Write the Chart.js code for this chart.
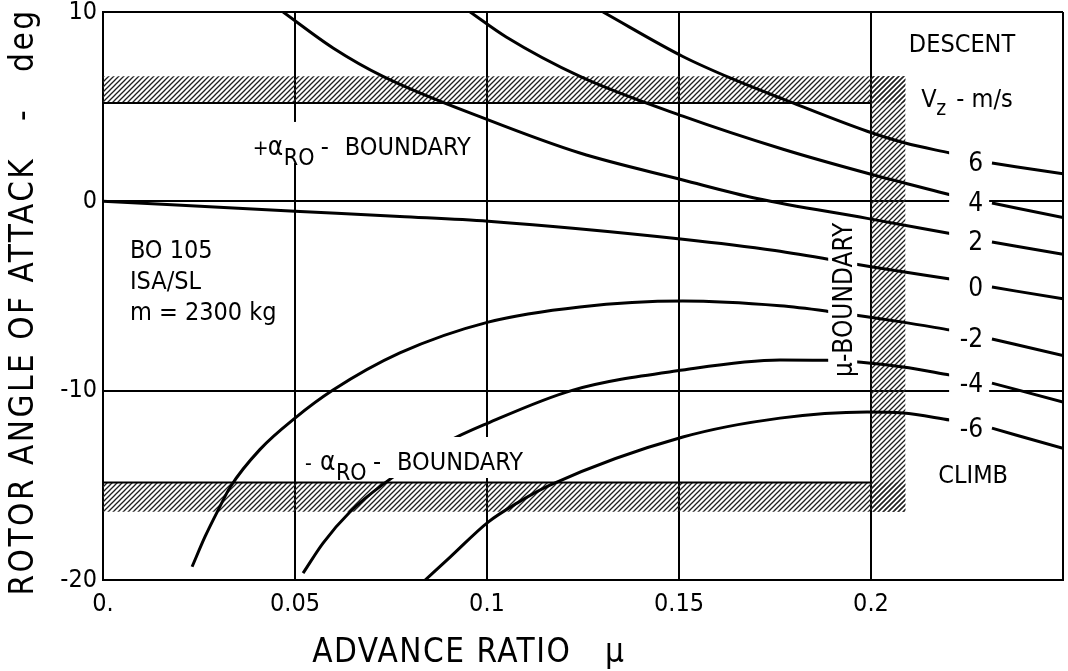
<!DOCTYPE html>
<html>
<head>
<meta charset="utf-8">
<script src="https://cdn.jsdelivr.net/npm/chart.js@4.4.0/dist/chart.umd.min.js"></script>
<style>
html,body{margin:0;padding:0;background:#fff;}
#wrap{position:relative;width:1068px;height:671px;}
</style>
</head>
<body>
<div id="wrap"><canvas id="c" width="1068" height="671"></canvas></div>
<script>
// ---------- data ----------
const xTickValues = [0, 0.05, 0.1, 0.15, 0.2, 0.25];
const xTickLabels = ['0.', '0.05', '0.1', '0.15', '0.2', ''];
const yTickValues = [-20, -10, 0, 10];
const yTickLabels = ['-20', '-10', '0', '10'];

const vzLabels = ['6', '4', '2', '0', '-2', '-4', '-6'];

// advance ratio (mu) and rotor angle of attack (deg); null = break for the label
const mu_vz6    = [0.1302, 0.1510, 0.1641, 0.1771, 0.1990, 0.2089, 0.2206, null, 0.2315, 0.25];
const alpha_vz6 = [10.0,   7.65,   6.45,   5.40,   3.70,   3.08,   2.55,   null, 2.02,   1.45];

const mu_vz4    = [0.0956, 0.1050, 0.1242, 0.1510, 0.1771, 0.2000, 0.2206, null, 0.2315, 0.25];
const alpha_vz4 = [10.0,   8.68,   6.60,   4.50,   2.75,   1.43,   0.35,   null, -0.09,  -0.85];

const mu_vz2    = [0.0469, 0.0599, 0.0729, 0.1003, 0.1242, 0.1510, 0.1703, 0.1990, 0.2206, null, 0.2315, 0.25];
const alpha_vz2 = [10.0,   8.10,   6.60,   4.30,   2.55,   1.13,   0.15,   -0.90,  -1.70,  null, -2.15,  -2.80];

const mu_vz0    = [0.0,  0.0500, 0.0773, 0.1003, 0.1510, 0.1750, 0.2000, 0.2206, null, 0.2315, 0.25];
const alpha_vz0 = [0.0, -0.52,  -0.80,  -1.05,  -2.00,  -2.60,  -3.45,  -4.10,  null, -4.53,  -5.15];

const mu_vzm2    = [0.0232, 0.0266, 0.0300, 0.0331, 0.0409, 0.0500, 0.0599, 0.0773, 0.1003, 0.1242, 0.1510, 0.1763, 0.1885, 0.2083, 0.2206, null, 0.2315, 0.25];
const alpha_vzm2 = [-19.3,  -17.7,  -16.3,  -15.1,  -13.1,  -11.45, -9.97,  -8.01,  -6.38,  -5.58,  -5.27,  -5.52,  -5.80,  -6.38,  -6.80,  null, -7.27,  -8.15];

const mu_vzm4    = [0.0521, 0.0573, 0.0643, 0.0729, 0.0896, 0.1003, 0.1224, 0.1510, 0.1763, 0.1885, 0.2083, 0.2206, null, 0.2315, 0.25];
const alpha_vzm4 = [-19.64, -18.05, -16.41, -14.95, -12.72, -11.71, -9.97, -8.91,  -8.38,  -8.40,  -8.75,  -9.18,  null, -9.60,  -10.60];

const mu_vzm6    = [0.0839, 0.0904, 0.1003, 0.1078, 0.1164, 0.1510, 0.1763, 0.1990, 0.2083, 0.2206, null, 0.2315, 0.25];
const alpha_vzm6 = [-20.0, -18.79, -16.94, -15.94, -14.99, -12.45, -11.45, -11.13, -11.18, -11.55, null, -11.98, -13.05];

// hatched boundaries
const bandUpperAlpha = [5.2, 6.6];      // + alpha_RO boundary
const bandLowerAlpha = [-16.4, -14.85]; // - alpha_RO boundary
const bandMu = [0.2, 0.209];            // mu boundary

// ---------- build ----------
const FONT = "'DejaVu Sans Condensed', 'Liberation Sans', sans-serif";

const curveSets = [
  [mu_vz6, alpha_vz6], [mu_vz4, alpha_vz4], [mu_vz2, alpha_vz2], [mu_vz0, alpha_vz0],
  [mu_vzm2, alpha_vzm2], [mu_vzm4, alpha_vzm4], [mu_vzm6, alpha_vzm6]
];

const canvas = document.getElementById('c');
const mainCtx = canvas.getContext('2d');

function makeHatch() {
  const s = 5;
  const pc = document.createElement('canvas');
  pc.width = s; pc.height = s;
  const g = pc.getContext('2d');
  g.strokeStyle = '#202020';
  g.lineWidth = 1.3;
  g.beginPath();
  g.moveTo(-1, s + 1); g.lineTo(s + 1, -1);
  g.moveTo(-1, 1); g.lineTo(1, -1);
  g.moveTo(s - 1, s + 1); g.lineTo(s + 1, s - 1);
  g.stroke();
  return mainCtx.createPattern(pc, 'repeat');
}
const hatch = makeHatch();

const datasets = [];
curveSets.forEach(([mu, al], i) => {
  datasets.push({
    label: 'Vz ' + vzLabels[i],
    data: mu.map((m, k) => ({x: m, y: al[k]})),
    borderColor: '#000', borderWidth: 3, pointRadius: 0, fill: false,
    cubicInterpolationMode: 'monotone', spanGaps: false, order: 0
  });
});

const bandStyle = {backgroundColor: hatch, borderColor: 'rgba(0,0,0,0)', borderWidth: 0, pointRadius: 0, tension: 0, order: 10};
datasets.push(Object.assign({label: 'upper band',
  data: [{x: 0, y: bandUpperAlpha[1]}, {x: bandMu[1], y: bandUpperAlpha[1]}],
  fill: {value: bandUpperAlpha[0]}}, bandStyle));
datasets.push(Object.assign({label: 'mu band',
  data: [{x: bandMu[0], y: bandUpperAlpha[1]}, {x: bandMu[1], y: bandUpperAlpha[1]}],
  fill: {value: bandLowerAlpha[0]}}, bandStyle));
datasets.push(Object.assign({label: 'lower band',
  data: [{x: 0, y: bandLowerAlpha[1]}, {x: bandMu[1], y: bandLowerAlpha[1]}],
  fill: {value: bandLowerAlpha[0]}}, bandStyle));
// solid inner edges of the boundaries
const edgeStyle = {borderColor: '#000', borderWidth: 2, pointRadius: 0, fill: false, tension: 0, order: 5};
datasets.push(Object.assign({label: 'upper edge',
  data: [{x: 0, y: bandUpperAlpha[0]}, {x: bandMu[0], y: bandUpperAlpha[0]}]}, edgeStyle));
datasets.push(Object.assign({label: 'lower edge',
  data: [{x: 0, y: bandLowerAlpha[1]}, {x: bandMu[0], y: bandLowerAlpha[1]}]}, edgeStyle));

// ---------- annotation plugin ----------
const annot = {
  id: 'annot',
  afterDatasetsDraw(chart) {
    const ctx = chart.ctx;
    const xs = chart.scales.x, ys = chart.scales.y;
    const px = v => xs.getPixelForValue(v);
    const py = v => ys.getPixelForValue(v);
    ctx.save();
    ctx.fillStyle = '#000';
    const font = (s) => s + 'px ' + FONT;
    function text(s, x, y, size, align, base) {
      ctx.font = font(size);
      ctx.textAlign = align || 'left';
      ctx.textBaseline = base || 'alphabetic';
      ctx.fillText(s, x, y);
    }
    function white(x0, y0, x1, y1) {
      ctx.fillStyle = '#fff';
      ctx.fillRect(x0, y0, x1 - x0, y1 - y0);
      ctx.fillStyle = '#000';
    }
    function boundaryLabel(sign, x0, base) {
      white(x0 - 6, base - 33, x0 + 226, base + 8);
      text(sign, x0, base, 21);
      text('α', x0 + 15, base, 26);
      text('RO', x0 + 31, base + 10, 23);
      text('-', x0 + 68, base, 25);
      text('BOUNDARY', x0 + 92, base, 25);
    }
    // + alpha boundary label
    boundaryLabel('+', px(0.039), py(2.45));
    // - alpha boundary label
    boundaryLabel('-', px(0.0526), py(-14.19));

    // mu boundary label (vertical)
    const mx = px(0.1951), my = py(-5.2);
    white(mx - 24, py(-0.95), mx + 5, py(-9.85));
    ctx.save();
    ctx.translate(mx, my);
    ctx.rotate(-Math.PI / 2);
    text('μ-BOUNDARY', 0, 0, 26, 'center');
    ctx.restore();

    // aircraft block
    const bx = px(0.007);
    text('BO 105', bx, py(-3.0), 25);
    text('ISA/SL', bx, py(-4.63), 25);
    text('m = 2300 kg', bx, py(-6.27), 25);

    // descent / climb
    text('DESCENT', px(0.2237), py(7.89), 25, 'center');
    text('CLIMB', px(0.2266), py(-14.88), 25, 'center');
    const vx = px(0.2131), vy = py(4.98);
    text('V', vx, vy, 25);
    text('z', vx + 15, vy + 8, 21);
    text('- m/s', vx + 35, vy, 25);

    // Vz curve labels
    curveSets.forEach(([mu, al], i) => {
      const k = al.indexOf(null);
      const yv = (al[k - 1] + al[k + 1]) / 2 - 0.25;
      const lx = px(0.2292), ly = py(yv);
      white(lx - 34, ly - 12, lx + 6, ly + 12);
      text(vzLabels[i], lx, ly + 1, 26, 'right', 'middle');
    });

    // axis titles
    const ca = chart.chartArea;
    ctx.save();
    ctx.letterSpacing = '1.5px';
    text('ADVANCE RATIO', px(0.0545), 662, 33);
    text('μ', px(0.1307), 662, 33);
    ctx.restore();
    ctx.save();
    ctx.letterSpacing = '2.5px';
    ctx.translate(33, (ca.top + ca.bottom) / 2 + 6);
    ctx.rotate(-Math.PI / 2);
    text('ROTOR ANGLE OF ATTACK   -   deg', 0, 0, 33, 'center');
    ctx.restore();
    ctx.restore();
  }
};

new Chart(mainCtx, {
  type: 'line',
  data: {datasets},
  options: {
    responsive: false,
    animation: false,
    devicePixelRatio: 1,
    layout: {padding: {left: 0, top: 12, right: 5, bottom: 0}},
    plugins: {legend: {display: false}, tooltip: {enabled: false}},
    scales: {
      x: {
        type: 'linear', min: 0, max: 0.25,
        afterBuildTicks: s => { s.ticks = xTickValues.map(v => ({value: v})); },
        afterFit: s => { s.height = 91; s.paddingLeft = 0; s.paddingRight = 0; },
        grid: {color: '#000', lineWidth: 2, drawTicks: false},
        border: {display: true, color: '#000', width: 2},
        ticks: {
          autoSkip: false, maxRotation: 0, padding: 9, color: '#000',
          font: {family: FONT, size: 25},
          callback: (v, i) => xTickLabels[i]
        }
      },
      y: {
        type: 'linear', min: -20, max: 10,
        afterBuildTicks: s => { s.ticks = yTickValues.map(v => ({value: v})); },
        afterFit: s => { s.width = 103; s.paddingTop = 0; s.paddingBottom = 0; },
        grid: {color: '#000', lineWidth: 2, drawTicks: false},
        border: {display: true, color: '#000', width: 2},
        ticks: {
          autoSkip: false, padding: 6, color: '#000',
          font: {family: FONT, size: 25},
          callback: (v, i) => yTickLabels[i]
        }
      }
    }
  },
  plugins: [annot]
});
</script>
</body>
</html>
